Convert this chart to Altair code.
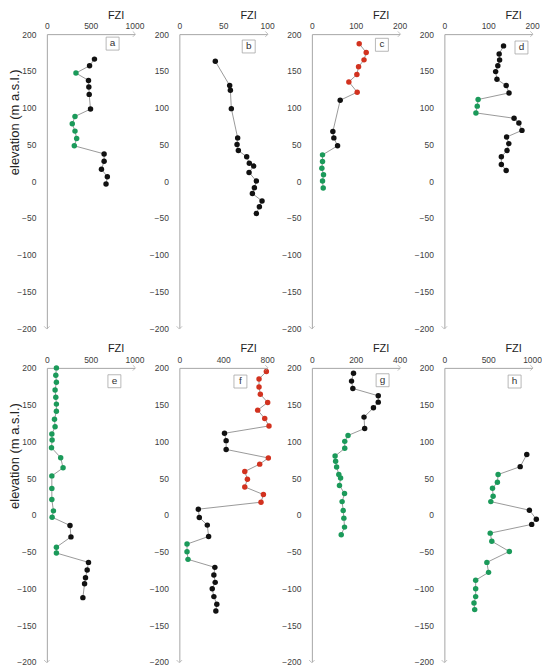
import altair as alt
import pandas as pd

# ---------------- data ----------------
a_elev = [166, 157, 147, 137, 128, 118, 98, 88, 78, 68, 58, 48, 37, 27, 16, 6, -4]
a_fzi = [543, 487, 332, 475, 479, 483, 498, 321, 290, 321, 340, 313, 653, 653, 623, 690, 675]
a_cls = ["k", "k", "g", "k", "k", "k", "k", "g", "g", "g", "g", "g", "k", "k", "k", "k", "k"]

b_elev = [163, 130, 123.5, 98.6, 58.8, 49.8, 41.6, 33, 24.4, 20.4, 11.8, 0, -9, -17, -27, -35, -44]
b_fzi = [41, 57.4, 58.2, 59.3, 66.5, 65.8, 67.3, 76.8, 79.8, 84.8, 79.5, 87.8, 85.6, 83.3, 94.3, 91.3, 87.8]
b_cls = ["k"] * 17

c_elev = [187, 175, 165, 155.6, 145, 135, 121, 110, 67.4, 58.8, 48, 35.7, 26.7, 17.6, 8.6, 0, -9.5]
c_fzi = [108, 124, 119, 106.5, 102.7, 84.4, 103.4, 64.6, 47.9, 50.2, 58.6, 24.3, 24.3, 22.8, 26.6, 24.3, 25.9]
c_cls = ["r"] * 7 + ["k"] * 4 + ["g"] * 6

d_elev = [184, 173, 164.7, 157, 149, 138.5, 130, 120, 111, 102, 92.8, 85.5, 79, 69, 60, 51, 41.6, 33, 22.6, 14.5]
d_fzi = [135, 125, 126, 122, 117, 120, 141, 147.5, 77, 75, 72, 159, 170, 177, 142, 147, 143, 130, 130, 141]
d_cls = ["k"] * 8 + ["g"] * 3 + ["k"] * 9

e_elev = [200, 190, 180.5, 170, 160, 150.7, 141, 130, 120, 110, 101.8, 91.4, 77.8, 64, 53, 36, 20.8, 5.4, -3.2,
          -14.5, -30, -44, -52, -64.7, -75, -85.5, -93.7, -112.7]
e_fzi = [109, 102, 109, 94, 102, 109, 109, 87, 94, 57, 60, 53, 158, 185, 57, 57, 57, 75, 60,
         264, 275, 109, 109, 475, 460, 441, 430, 411]
e_cls = ["g"] * 19 + ["k", "k", "g", "g"] + ["k"] * 5

f_elev = [195, 185, 174, 164, 153, 142.5, 131, 121, 111, 101, 89, 77.4, 69, 59, 48.4, 38, 27.6, 17.2, 7.7, -3.6,
          -14, -29.4, -39.8, -50.2, -60.6, -71.5, -81.9, -91.9, -100.5, -111.3, -121.7, -130.8]
f_fzi = [794, 727, 727, 739, 806, 715, 779, 818, 412, 427, 427, 812, 733, 597, 621, 597, 767, 745, 173, 182,
         255, 267, 70, 70, 79, 324, 315, 327, 300, 315, 342, 333]
f_cls = ["r"] * 8 + ["k"] * 3 + ["r"] * 7 + ["k"] * 4 + ["g"] * 3 + ["k"] * 7

g_elev = [192.8, 182, 172, 162, 153.4, 145.7, 133, 117.6, 108, 100, 90.5, 80, 72.9, 65, 55, 50, 40, 29, 18, 5.9,
          -4.5, -16.7, -27]
g_fzi = [190, 181, 187, 303, 303, 281, 238, 241, 165, 150, 150, 106, 108.5, 113, 123, 131, 126, 149, 138, 143,
         146, 149, 134]
g_cls = ["k"] * 8 + ["g"] * 15

h_elev = [82, 65.6, 54.8, 44.3, 36.2, 25.3, 18, 6.3, -5.9, -13, -24.9, -36, -49.8, -64.7, -78.3, -89, -100.5,
          -111.3, -120, -129]
h_fzi = [940, 865, 613, 605, 549, 556, 530, 970, 1049, 996, 523, 541, 741, 485, 504, 357, 357, 357, 338, 346]
h_cls = ["k", "k"] + ["g"] * 5 + ["k"] * 3 + ["g"] * 10

panel_labels = ["a", "b", "c", "d", "e", "f", "g", "h"]
x_max = [1000, 100, 200, 200, 1000, 800, 400, 1000]
x_ticks = [[0, 500, 1000], [0, 50, 100], [0, 100, 200], [0, 100, 200],
           [0, 500, 1000], [0, 400, 800], [0, 200, 400], [0, 500, 1000]]
y_ticks = [-200, -150, -100, -50, 0, 50, 100, 150, 200]

# ---------------- styling ----------------
W, H = 88, 295
FONT = "Liberation Sans"
AXIS_COL = "#a6a6a6"
COLORS = {"k": "#111111", "g": "#1b9a5a", "r": "#d2321f"}
box_off = [(66, 9.5), (69.6, 12.4), (70.3, 10.7), (77.4, 13.4),
           (67.8, 13.4), (61.3, 13.7), (71, 12.4), (70.5, 13.7)]

series = [(a_elev, a_fzi, a_cls), (b_elev, b_fzi, b_cls), (c_elev, c_fzi, c_cls), (d_elev, d_fzi, d_cls),
          (e_elev, e_fzi, e_cls), (f_elev, f_fzi, f_cls), (g_elev, g_fzi, g_cls), (h_elev, h_fzi, h_cls)]


def panel(i, first_col):
    elev, fzi, cls = series[i]
    df = pd.DataFrame({"elev": elev, "fzi": fzi, "cls": cls, "idx": list(range(len(elev)))})
    xs = alt.Scale(domain=[0, x_max[i]], nice=False, zero=True)
    ys = alt.Scale(domain=[-200, 200], nice=False, zero=False)
    xax = alt.Axis(orient="top", title="FZI", values=x_ticks[i], format="d", labelFlush=False,
                   labelOverlap=False, ticks=False, tickSize=0, grid=False, labelPadding=3.5,
                   titleX=69, titleY=-19, titleAlign="center", titleBaseline="middle")
    common = dict(values=y_ticks, tickCount=9, ticks=False, tickSize=0, grid=False, labelPadding=11,
                  labelFlush=False, labelOverlap=False, format="d")
    if first_col:
        yax = alt.Axis(title="elevation (m a.s.l.)", titleX=-32, titleY=88, titleAngle=270,
                       titleAlign="center", titleBaseline="middle", titleFontSize=13, **common)
    else:
        yax = alt.Axis(title=None, **common)
    base = alt.Chart(df).encode(
        x=alt.X("fzi:Q", scale=xs, axis=xax),
        y=alt.Y("elev:Q", scale=ys, axis=yax),
    )
    line = base.mark_line(color="#808080", strokeWidth=0.8).encode(order="idx:O")
    pts = base.mark_circle(size=30, opacity=1).encode(
        color=alt.Color("cls:N", scale=alt.Scale(domain=list(COLORS.keys()), range=list(COLORS.values())),
                        legend=None),
    )
    one = alt.Data(values=[{"label": panel_labels[i]}])
    cx, cy = box_off[i]
    box = alt.Chart(one).mark_rect(fill="white", stroke=AXIS_COL, strokeWidth=0.8).encode(
        x=alt.value(cx - 6.5), x2=alt.value(cx + 6.5), y=alt.value(cy - 6.5), y2=alt.value(cy + 6.5))
    txt = alt.Chart(one).mark_text(fontSize=10, font=FONT, color="#333333", baseline="middle",
                                   align="center").encode(x=alt.value(cx), y=alt.value(cy - 0.5), text="label:N")
    arr_r = alt.Chart(one).mark_point(shape="M-1,-1L0,0L-1,1", filled=False, stroke=AXIS_COL,
                                      strokeWidth=1, size=30).encode(x=alt.value(W + 1), y=alt.value(0))
    arr_d = alt.Chart(one).mark_point(shape="M-1,-1L0,0L1,-1", filled=False, stroke=AXIS_COL,
                                      strokeWidth=1, size=30).encode(x=alt.value(0), y=alt.value(H + 1))
    return alt.layer(line, pts, box, txt, arr_r, arr_d).properties(width=W, height=H)


chart = alt.concat(*[panel(i, i % 4 == 0) for i in range(8)], columns=4,
                   spacing={"row": 40, "column": 45}, bounds="flush").properties(
    padding={"left": 1, "top": 0, "right": 0, "bottom": 0}
).configure(font=FONT).configure_view(stroke=None).configure_axis(
    domainColor=AXIS_COL, domainWidth=1, labelFont=FONT, labelFontSize=8.5, labelColor="#404040",
    titleFont=FONT, titleFontSize=11, titleFontWeight="normal", titleColor="#222222",
)

chart.save("out.html", embed_options={"renderer": "svg", "actions": False})
